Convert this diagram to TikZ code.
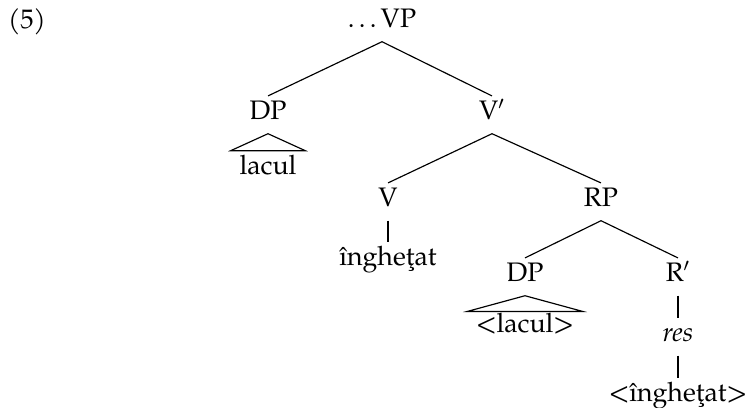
\documentclass[tikz,border=0pt,11pt]{standalone}
\usepackage{fontspec}
\setmainfont{TeX Gyre Pagella}
\usetikzlibrary{positioning}
\tikzset{
  cat/.style={
    anchor=base,
    inner xsep=1pt,
    inner ysep=2.2pt,
    text height=7.95pt,
    text depth=3.5pt,
  },
  roofleaf/.style={
    anchor=base,
    inner xsep=3.6pt,
    inner ysep=1.7pt,
    text height=7.95pt,
    text depth=3.5pt,
  },
  branch/.style={
    line width=0.5pt,
    draw=black,
  }
}

\begin{document}
\begin{tikzpicture}[x=0.43pt,y=-0.43pt,font=\fontsize{11.5}{14}\selectfont]
  \useasboundingbox (0,0) rectangle (746,408);

  \node[anchor=base] (ex) at (27,29) {(5)};

  \node[cat] (vp) at (382,28) {.\kern.16em.\kern.16em.\kern.16em VP};
  \node[cat] (dpA) at (268,120) {DP};
  \node[cat] (vbar) at (492,120) {V$'$};
  \node[roofleaf,inner ysep=2.3pt] (lacA) at (268,175) {lacul};
  \node[cat] (v) at (388,207) {V};
  \node[cat] (rp) at (601,207) {RP};
  \node[cat] (ingA) at (388,266) {îngheţat};
  \node[cat] (dpB) at (525,282) {DP};
  \node[cat] (rbar) at (678,282) {R$'$};
  \node[roofleaf,inner ysep=1.1pt] (lacB) at (525,333) {<lacul>};
  \node[cat] (res) at (678,342) {\textit{res}};
  \node[cat] (ingB) at (678,402) {<îngheţat>};

  \draw[branch] (vp.south) -- (dpA.north);
  \draw[branch] (vp.south) -- (vbar.north);
  \draw[branch] (dpA.south) -- (lacA.north east) -- (lacA.north west) -- cycle;
  \draw[branch] (vbar.south) -- (v.north);
  \draw[branch] (vbar.south) -- (rp.north);
  \draw[branch] (v.south) -- (ingA.north);
  \draw[branch] (rp.south) -- (dpB.north);
  \draw[branch] (rp.south) -- (rbar.north);
  \draw[branch] (dpB.south) -- (lacB.north east) -- (lacB.north west) -- cycle;
  \draw[branch] (rbar.south) -- (res.north);
  \draw[branch] (res.south) -- (ingB.north);
\end{tikzpicture}
\end{document}
